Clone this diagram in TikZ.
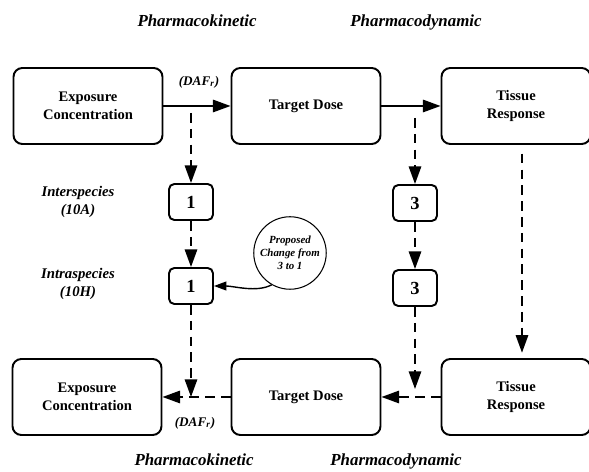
\documentclass[tikz,border=0pt]{standalone}
\usepackage{fontspec}
\setmainfont{Liberation Serif}
\usetikzlibrary{arrows.meta, positioning}

\tikzset{
  stage/.style={draw, line width=1.1pt, rounded corners=5pt, minimum width=2.98cm,
    minimum height=1.52cm, align=center, font=\bfseries\fontsize{8.3}{10.3}\selectfont},
  factor/.style={draw, line width=1.1pt, rounded corners=3pt, minimum width=0.88cm,
    minimum height=0.72cm, font=\bfseries\fontsize{10.5}{12}\selectfont},
  heading/.style={font=\bfseries\itshape\fontsize{9.6}{11}\selectfont},
  side/.style={align=center, font=\bfseries\itshape\fontsize{8.4}{10.5}\selectfont},
  daf/.style={font=\bfseries\itshape\fontsize{7.5}{9}\selectfont},
  flow/.style={line width=1.1pt, -{Triangle[length=10pt,width=7pt]}},
  adjust/.style={flow, dash pattern=on 5.5pt off 3.5pt},
}

\begin{document}
\begin{tikzpicture}[x=0.02cm, y=-0.02cm]
  \useasboundingbox (0,0) rectangle (589,472);
  % headings
  \node[heading] (pkTop) at (197,21) {Pharmacokinetic};
  \node[heading] (pdTop) at (416,22) {Pharmacodynamic};
  \node[heading] (pkBot) at (194,460) {Pharmacokinetic};
  \node[heading] (pdBot) at (396,461) {Pharmacodynamic};

  % animal row
  \node[stage] (expA) at (88,106) {Exposure\\Concentration};
  \node[stage] (doseA) at (306,106) {Target Dose};
  \node[stage] (respA) at (516,106) {Tissue\\Response};
  % human row
  \node[stage] (expH) at (87,397) {Exposure\\Concentration};
  \node[stage] (doseH) at (306,397) {Target Dose};
  \node[stage] (respH) at (516,397) {Tissue\\Response};

  % uncertainty factors
  \node[factor] (ukA) at (191,202) {1};
  \node[factor] (udA) at (415,203) {3};
  \node[factor] (ukH) at (191,286) {1};
  \node[factor] (udH) at (415,288) {3};

  \node[side] (inter) at (78,202) {Interspecies\\(10A)};
  \node[side] (intra) at (78,284) {Intraspecies\\(10H)};
  \node[daf] (dafA) at (199,82) {(DAF\textsubscript{r})};
  \node[daf] (dafH) at (195,423) {(DAF\textsubscript{r})};

  \node[draw, circle, line width=0.6pt, minimum size=1.45cm, inner sep=0pt, align=center,
    font=\bfseries\itshape\fontsize{6.2}{7.4}\selectfont] (change) at (290,253)
    {Proposed\\Change from\\3 to 1};

  \coordinate (splitK) at (191,113);
  \coordinate (splitD) at (415,118);
  \coordinate (joinK) at (191,397);
  \coordinate (joinD) at (415,389);

  \draw[flow] (expA) -- (doseA);
  \draw[flow] (doseA) -- (respA);

  \draw[adjust] (splitK) -- (ukA);
  \draw[adjust] (ukA) -- (ukH);
  \draw[adjust] (ukH) -- (joinK);
  \draw[adjust] (splitD) -- (udA);
  \draw[adjust] (udA) -- (udH);
  \draw[adjust] (udH) -- (joinD);
  \draw[adjust, shorten <=5pt, shorten >=3pt]
    ([xshift=0.12cm]respA.south) -- ([xshift=0.12cm]respH.north);
  \draw[adjust] (respH) -- (doseH);
  \draw[adjust] (doseH) -- (expH);

  \draw[line width=0.8pt, -{Triangle[length=7pt,width=5pt]}]
    (change.240) .. controls +(-15,8) and +(20,0) .. (ukH.east);
\end{tikzpicture}
\end{document}
